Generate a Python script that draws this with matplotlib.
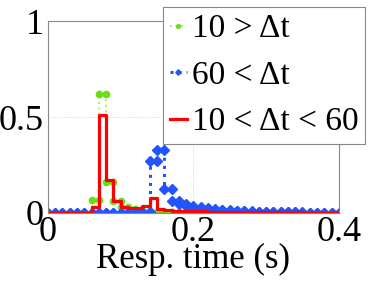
"""
Response-time histogram for three inter-arrival buckets, drawn as stairs
with markers on every step corner.
"""
import numpy as np
import matplotlib
matplotlib.use("Agg")
import matplotlib.pyplot as plt
from matplotlib.font_manager import FontProperties

SERIF = "Liberation Serif"

# bin edges: 0 .. 0.4 s in 10 ms bins
bin_edges = np.round(np.arange(0, 0.401, 0.01), 3)

# fraction of responses per bin
short_gap = [0, 0, 0, 0, 0, 0, 0.07, 0.62, 0.16, 0.06,
             0.03, 0.02, 0.015, 0.01, 0.005, 0.005, 0.004, 0.003, 0.002, 0.002,
             0.001, 0.001, 0.001, 0, 0, 0, 0, 0, 0, 0,
             0, 0, 0, 0, 0, 0, 0, 0, 0, 0]
long_gap = [0, 0, 0, 0, 0, 0, 0, 0, 0, 0,
            0, 0, 0, 0.005, 0.27, 0.33, 0.125, 0.06, 0.045, 0.035,
            0.03, 0.025, 0.02, 0.018, 0.015, 0.012, 0.01, 0.008, 0.007, 0.006,
            0.005, 0.004, 0.004, 0.003, 0.003, 0.002, 0.002, 0.002, 0.001, 0.001]
mid_gap = [0, 0, 0, 0, 0, 0, 0.03, 0.51, 0.17, 0.065,
           0.033, 0.025, 0.025, 0.035, 0.077, 0.02, 0.015, 0.012, 0.01, 0.01,
           0.008, 0.008, 0.007, 0.006, 0.006, 0.005, 0.005, 0.005, 0.004, 0.004,
           0.004, 0.003, 0.003, 0.003, 0.003, 0.002, 0.002, 0.002, 0.002, 0.002]

labels = ["10 > Δt", "60 < Δt", "10 < Δt < 60"]
xticks = [0, 0.2, 0.4]
xtick_labels = ["0", "0.2", "0.4"]
yticks = [0, 0.5, 1]
ytick_labels = ["0", "0.5", "1"]


def stairs_xy(edges, vals):
    # corner points of a stairs outline (marker on each corner)
    xs = np.repeat(edges, 2)[1:-1]
    ys = np.repeat(vals, 2)
    return xs, ys


fig = plt.figure(figsize=(3.74, 2.81), dpi=100)
ax = fig.add_axes([0.128, 0.242, 0.778, 0.683])

x, y = stairs_xy(bin_edges, short_gap)
ax.plot(x, y, ls=":", lw=1.5, color="#a6ee88", marker="o", ms=4.5,
        mfc="#66e010", mec="#66e010", label=labels[0])
x, y = stairs_xy(bin_edges, long_gap)
ax.plot(x, y, ls=":", lw=2.2, color="#2255ff", marker="D", ms=4.6,
        mfc="#2255ff", mec="#2255ff", label=labels[1])
x, y = stairs_xy(bin_edges, mid_gap)
ax.plot(x, y, ls="-", lw=2.3, color="#ff0000", label=labels[2])

ax.set_xlim(0, 0.4)
ax.set_ylim(0, 1)
ax.set_xticks(xticks)
ax.set_xticklabels(xtick_labels, family=SERIF, fontsize=26)
ax.set_yticks(yticks)
ax.set_yticklabels(ytick_labels, family=SERIF, fontsize=26)
ax.tick_params(length=0)
ax.tick_params(axis="x", pad=2)
ax.tick_params(axis="y", pad=3)
ax.grid(True, ls=":", lw=0.6, color="#cccccc")
for s in ax.spines.values():
    s.set_color("#888888")
    s.set_linewidth(0.8)
ax.set_xlabel("Resp. time (s)", family=SERIF, fontsize=25, labelpad=-4)

leg = ax.legend(loc="upper right", bbox_to_anchor=(365 / 374, 1 - 7 / 281),
                bbox_transform=fig.transFigure, borderaxespad=0,
                prop=FontProperties(family=SERIF, size=24),
                fancybox=False, framealpha=1, edgecolor="#888888",
                handlelength=0.5, handletextpad=0.15, borderpad=0.2,
                labelspacing=0.48, markerscale=0.6)
leg.get_frame().set_linewidth(0.8)

fig.savefig("out.png", dpi=100)
